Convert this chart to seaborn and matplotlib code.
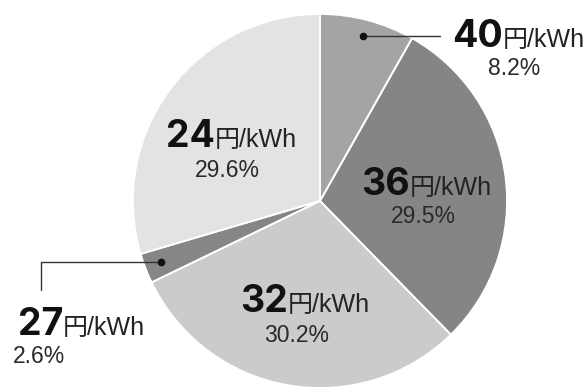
import matplotlib
matplotlib.use("Agg")
import matplotlib.pyplot as plt
from matplotlib.patches import Wedge
import numpy as np
import seaborn as sns

# Electricity price bands and their share of the total
prices = ["40", "36", "32", "27", "24"]
shares = [8.2, 29.5, 30.2, 2.6, 29.6]
pct_labels = ["8.2%", "29.5%", "30.2%", "2.6%", "29.6%"]
unit = "円/kWh"

colors = ["#a4a4a4", "#858585", "#cbcbcb", "#868686", "#e3e3e3"]

sns.set_theme(style="white")
plt.rcParams["font.family"] = ["Liberation Sans", "Noto Sans CJK JP", "DejaVu Sans"]

W, H = 585, 387
fig = plt.figure(figsize=(W / 100, H / 100), dpi=100)
ax = fig.add_axes([0, 0, 1, 1])


def top(y):
    """Convert a distance from the top edge to axis y."""
    return H - y


cx, cy, R = 320, top(201), 187
wedges, _ = ax.pie(
    shares, colors=colors, startangle=90, counterclock=False,
    center=(cx, cy), radius=R,
    wedgeprops=dict(edgecolor="none", linewidth=0),
)

# thin white separators
for w in wedges:
    ax.add_patch(Wedge(w.center, w.r, w.theta1, w.theta2, fill=False,
                       edgecolor="white", linewidth=1.3, zorder=3))

ax.set_xlim(0, W)
ax.set_ylim(0, H)
ax.set_aspect("equal")
ax.axis("off")

# label layout: (split x between number and unit, baseline, pct x, pct baseline, pct align)
layout = {
    "40": (503, 47, 514, 75, "center"),
    "36": (410, 195, 423, 223, "center"),
    "32": (288, 312, 297, 342, "center"),
    "27": (63, 335, 13, 363, "left"),
    "24": (215, 147, 227, 177, "center"),
}

for p, pct in zip(prices, pct_labels):
    sx, base, px, pb, pha = layout[p]
    ax.text(sx, top(base), p, ha="right", va="baseline", fontsize=27,
            family=["Inter", "Liberation Sans"], fontweight="bold",
            color="#111111", zorder=5)
    ax.text(sx, top(base), unit, ha="left", va="baseline", fontsize=18,
            color="#222222", zorder=5)
    ax.text(px, top(pb), pct, ha=pha, va="baseline", fontsize=16.5,
            color="#2a2a2a", zorder=5)


def mid_point(w, frac):
    ang = np.deg2rad((w.theta1 + w.theta2) / 2)
    return w.center[0] + frac * w.r * np.cos(ang), w.center[1] + frac * w.r * np.sin(ang)


# leader for the 40 yen wedge
x40, y40 = mid_point(wedges[0], 0.91)
ax.plot([x40, 440], [y40, y40], color="#333333", lw=1, zorder=4)
ax.plot([x40], [y40], "o", color="#111111", ms=4.5, zorder=4)

# leader for the 27 yen wedge
x27, y27 = mid_point(wedges[3], 0.91)
ax.plot([x27, 41, 41], [y27, y27, top(290)], color="#333333", lw=1, zorder=4)
ax.plot([x27], [y27], "o", color="#111111", ms=4.5, zorder=4)

fig.savefig("out.png", dpi=100)
